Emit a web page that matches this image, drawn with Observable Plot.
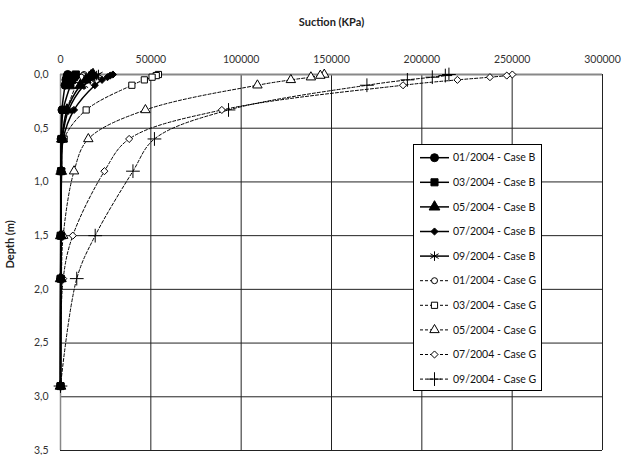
<!DOCTYPE html>
<html>
<head>
<meta charset="utf-8">
<script src="https://cdn.jsdelivr.net/npm/d3@7"></script>
<script src="https://cdn.jsdelivr.net/npm/@observablehq/plot@0.6"></script>
<style>
  html, body { margin: 0; padding: 0; background: #fff; }
  #chart { width: 636px; height: 455px; }
</style>
</head>
<body>
<div id="chart"></div>
<script>
// ---- data ----
const depths = [0, 0.01, 0.025, 0.05, 0.1, 0.33, 0.6, 0.9, 1.5, 1.9, 2.9];
const seriesNames = [
  "01/2004 - Case B", "03/2004 - Case B", "05/2004 - Case B", "07/2004 - Case B", "09/2004 - Case B",
  "01/2004 - Case G", "03/2004 - Case G", "05/2004 - Case G", "07/2004 - Case G", "09/2004 - Case G"
];
const caseB01 = [4000, 3800, 3500, 3000, 2500, 800, 300, 200, 100, 50, 0];
const caseB03 = [8500, 8000, 7500, 6500, 5500, 1500, 500, 300, 150, 100, 0];
const caseB05 = [18000, 17000, 16000, 14000, 11000, 3600, 800, 400, 200, 100, 0];
const caseB07 = [29000, 27500, 26000, 23000, 19000, 7500, 1500, 600, 300, 100, 0];
const caseB09 = [21000, 20000, 19000, 16500, 13000, 4500, 1000, 500, 200, 100, 0];
const caseG01 = [13000, 12500, 11500, 9500, 8500, 3500, 1000, 400, 150, 50, 0];
const caseG03 = [54200, 53000, 50700, 46400, 39500, 14200, 2000, 600, 200, 100, 0];
const caseG05 = [146000, 143800, 138600, 127500, 109000, 47000, 15400, 7500, 1500, 500, 0];
const caseG07 = [250100, 247000, 237700, 219700, 189600, 89300, 38000, 24300, 6800, 1500, 0];
const caseG09 = [215000, 213000, 205800, 192000, 169600, 93000, 52000, 40100, 19200, 9000, 0];
const seriesValues = [caseB01, caseB03, caseB05, caseB07, caseB09, caseG01, caseG03, caseG05, caseG07, caseG09];
const xTicks = [0, 50000, 100000, 150000, 200000, 250000, 300000];
const yTicks = [0, 0.5, 1, 1.5, 2, 2.5, 3, 3.5];
const xTitle = "Suction (KPa)";
const yTitle = "Depth (m)";

// ---- styles ----
const symbolNames = ["circle", "square", "triangle", "diamond2", "asterisk", "circle", "square", "triangle", "diamond2", "plus"];
const symbolRadius = [4, 4, 4, 3.2, 4.5, 3, 3.5, 3.5, 3.2, 4.5];
const d3Symbols = {circle: d3.symbolCircle, square: d3.symbolSquare, triangle: d3.symbolTriangle,
  diamond2: d3.symbolDiamond2, asterisk: d3.symbolAsterisk, plus: d3.symbolPlus};

const rows = [];
seriesNames.forEach((name, i) => {
  seriesValues[i].forEach((v, j) => {
    rows.push({series: name, idx: i, isG: i >= 5, depth: depths[j], value: v, r: symbolRadius[i]});
  });
});
const rowsB = rows.filter(d => !d.isG);
const rowsG = rows.filter(d => d.isG);

const font = "Lato, 'Liberation Sans', sans-serif";
const fmtY = d => d.toFixed(1).replace(".", ",");

const plot = Plot.plot({
  width: 636,
  height: 455,
  marginTop: 74,
  marginLeft: 60,
  marginRight: 34,
  marginBottom: 5,
  style: {fontFamily: font, fontSize: "10.5px", background: "#fff", color: "#222"},
  x: {domain: [0, 300000]},
  y: {domain: [0, 3.5], reverse: true},
  r: {type: "identity"},
  symbol: {domain: seriesNames, range: symbolNames},
  marks: [
    Plot.gridX(xTicks, {stroke: "#222", strokeOpacity: 1, strokeWidth: 1}),
    Plot.gridY(yTicks, {stroke: "#222", strokeOpacity: 1, strokeWidth: 1}),
    Plot.ruleY([0], {stroke: "#888", strokeWidth: 2}),
    Plot.ruleX([0], {stroke: "#888", strokeWidth: 1.5}),
    Plot.axisX(xTicks, {anchor: "top", tickSize: 0, tickPadding: 12, tickFormat: d => String(d), label: null, fill: "#333"}),
    Plot.axisY(yTicks, {anchor: "left", tickSize: 0, tickPadding: 12, tickFormat: fmtY, label: null, fill: "#333"}),
    Plot.text([xTitle], {text: d => d, frameAnchor: "top", dy: -56, fontWeight: "bold", fontSize: 11, fill: "#222"}),
    Plot.text([yTitle], {text: d => d, frameAnchor: "left", dx: -50, dy: 6, rotate: -90, fontWeight: "bold", fontSize: 11, fill: "#222"}),
    Plot.line(rowsG, {x: "value", y: "depth", z: "series", stroke: "#000", strokeWidth: 1, strokeDasharray: "3,2", curve: "catmull-rom"}),
    Plot.dot(rowsG, {x: "value", y: "depth", symbol: "series", r: "r", fill: "#fff", stroke: "#000", strokeWidth: 1}),
    Plot.line(rowsB, {x: "value", y: "depth", z: "series", stroke: "#000", strokeWidth: 1.5, curve: "catmull-rom"}),
    Plot.dot(rowsB, {x: "value", y: "depth", symbol: "series", r: "r", fill: "#000", stroke: "#000", strokeWidth: 1})
  ]
});
document.getElementById("chart").appendChild(plot);

// ---- legend ----
const svg = d3.select(plot);
const lg = svg.append("g").attr("font-family", font).attr("font-size", "10.5px").attr("text-anchor", "start");
const lx = 413, ly = 144, lw = 128, lh = 246, step = 24.6, first = 157.7;
lg.append("rect").attr("x", lx + 0.5).attr("y", ly + 0.5).attr("width", lw).attr("height", lh)
  .attr("fill", "#fff").attr("stroke", "#000").attr("stroke-width", 1);
seriesNames.forEach((name, i) => {
  const y = first + i * step;
  const isG = i >= 5;
  lg.append("line").attr("x1", 420).attr("x2", 449).attr("y1", y).attr("y2", y)
    .attr("stroke", "#000").attr("stroke-width", isG ? 1 : 1.5)
    .attr("stroke-dasharray", isG ? "3,2" : null);
  const r = symbolRadius[i];
  const sym = d3.symbol(d3Symbols[symbolNames[i]], Math.PI * r * r);
  const strokeOnly = symbolNames[i] === "asterisk" || symbolNames[i] === "plus";
  lg.append("path").attr("d", sym()).attr("transform", `translate(434.5,${y})`)
    .attr("fill", isG ? "#fff" : (strokeOnly ? "none" : "#000"))
    .attr("stroke", "#000").attr("stroke-width", 1);
  lg.append("text").attr("x", 453).attr("y", y).attr("dy", "0.35em").attr("text-anchor", "start")
    .attr("fill", "#111").text(name);
});
</script>
</body>
</html>
